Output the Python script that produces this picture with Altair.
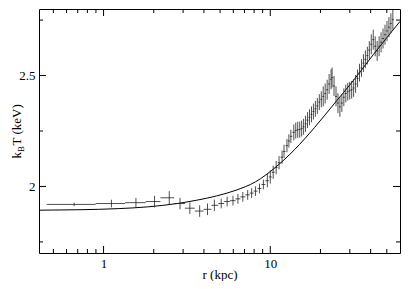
import altair as alt
import pandas as pd

# ---- data ----
r = [0.666, 1.115, 1.564, 2.022, 2.478, 2.876, 3.293, 3.771, 4.203, 4.621,
     5.080, 5.511, 5.976, 6.396, 6.843, 7.322, 7.730, 8.160, 8.615, 9.095,
     9.603, 10.00, 10.41, 10.85, 11.29, 11.77, 12.09, 12.59, 12.93, 13.29,
     13.84, 14.22, 14.61, 15.02, 15.43, 15.85, 16.28, 16.73, 17.19, 17.67,
     18.15, 18.65, 19.16, 19.69, 20.23, 20.78, 21.35, 21.94, 22.54, 23.16,
     23.48, 24.12, 24.79, 25.47, 26.16, 26.88, 27.62, 28.38, 29.16, 29.96,
     30.78, 31.62, 32.49, 33.38, 34.30, 35.24, 36.21, 37.20, 38.22, 39.27,
     40.35, 41.46, 42.60, 43.77, 44.97, 46.20, 47.47, 48.77, 50.12, 51.49,
     52.91, 54.36]

r_edges = [0.456, 0.897, 1.347, 1.790, 2.194, 2.652, 3.077, 3.525, 3.981, 4.437, 4.878,
           5.291, 5.738, 6.183, 6.616, 7.079, 7.524, 7.943, 8.384, 8.855, 9.346,
           9.799, 10.20, 10.63, 11.07, 11.53, 11.93, 12.34, 12.76, 13.11, 13.56,
           14.03, 14.42, 14.81, 15.22, 15.64, 16.07, 16.51, 16.96, 17.43, 17.91,
           18.40, 18.90, 19.42, 19.96, 20.50, 21.07, 21.64, 22.24, 22.85, 23.32,
           23.80, 24.45, 25.12, 25.81, 26.51, 27.24, 27.99, 28.76, 29.55, 30.36,
           31.19, 32.05, 32.93, 33.83, 34.76, 35.72, 36.70, 37.71, 38.74, 39.81,
           40.90, 42.02, 43.18, 44.36, 45.58, 46.83, 48.12, 49.44, 50.80, 52.19,
           53.63, 55.10]

kT = [1.919, 1.923, 1.927, 1.932, 1.949, 1.923, 1.902, 1.889, 1.897, 1.915,
      1.923, 1.932, 1.936, 1.944, 1.953, 1.962, 1.970, 1.979, 1.991, 2.009,
      2.026, 2.043, 2.064, 2.085, 2.107, 2.132, 2.158, 2.184, 2.205, 2.226,
      2.244, 2.252, 2.256, 2.256, 2.261, 2.269, 2.282, 2.299, 2.312, 2.325,
      2.338, 2.350, 2.363, 2.380, 2.393, 2.406, 2.419, 2.436, 2.462, 2.483,
      2.491, 2.453, 2.406, 2.376, 2.359, 2.376, 2.402, 2.419, 2.427, 2.432,
      2.436, 2.444, 2.462, 2.487, 2.513, 2.534, 2.556, 2.573, 2.590, 2.615,
      2.641, 2.662, 2.632, 2.611, 2.632, 2.650, 2.667, 2.684, 2.701, 2.718,
      2.735, 2.752]

kT_err = [0.008, 0.017, 0.021, 0.026, 0.030, 0.026, 0.026, 0.026, 0.026, 0.026,
          0.022, 0.022, 0.022, 0.022, 0.022, 0.022, 0.022, 0.022, 0.022, 0.022,
          0.030, 0.030, 0.030, 0.030, 0.030, 0.030, 0.030, 0.030, 0.030, 0.030,
          0.036, 0.036, 0.036, 0.036, 0.036, 0.036, 0.036, 0.036, 0.036, 0.036,
          0.036, 0.036, 0.036, 0.036, 0.036, 0.045, 0.045, 0.045, 0.045, 0.045,
          0.045, 0.045, 0.045, 0.045, 0.045, 0.040, 0.040, 0.040, 0.040, 0.040,
          0.040, 0.040, 0.040, 0.040, 0.040, 0.040, 0.040, 0.040, 0.040, 0.040,
          0.045, 0.045, 0.045, 0.045, 0.045, 0.045, 0.045, 0.045, 0.045, 0.045,
          0.045, 0.045]

model_r = [0.41, 0.713, 1.225, 1.840, 2.762, 3.622, 4.748, 6.225, 8.160, 10.70,
           14.03, 18.40, 24.12, 31.62, 41.46, 60.0]
model_T = [1.893, 1.895, 1.900, 1.908, 1.923, 1.938, 1.957, 1.983, 2.021, 2.085,
           2.167, 2.265, 2.372, 2.479, 2.594, 2.744]

x_major = [1, 10]
x_minor = [0.5, 0.6, 0.7, 0.8, 0.9, 2, 3, 4, 5, 6, 7, 8, 9, 20, 30, 40, 50]
y_major = [2.0, 2.5]
y_minor = [1.75, 2.25, 2.75]

x_title = "r (kpc)"
y_title_parts = ["k", "B", "T (keV)"]

# ---- chart ----
W, H = 361, 244
FONT = "Liberation Serif, Times New Roman, DejaVu Serif, serif"
xscale = alt.Scale(type="log", domain=[0.41, 60], nice=False)
yscale = alt.Scale(domain=[1.7, 2.8], nice=False, zero=False)

df = pd.DataFrame({"r": r, "T": kT, "err": kT_err,
                   "rlo": r_edges[:-1], "rhi": r_edges[1:]})
df["Tlo"] = df["T"] - df["err"]
df["Thi"] = df["T"] + df["err"]
mdf = pd.DataFrame({"r": model_r, "T": model_T})

xaxis = alt.Axis(values=x_major, title=x_title, ticks=False, domain=False,
                 grid=False, labelPadding=4, labelExpr="toString(datum.value)",
                 titleBaseline="alphabetic", titleY=25)
yaxis = alt.Axis(values=y_major, title="", ticks=False, domain=False,
                 grid=False, labelPadding=4, labelExpr="toString(datum.value)")

X = lambda f: alt.X(f, scale=xscale, axis=xaxis)
Y = lambda f: alt.Y(f, scale=yscale, axis=yaxis)

vbar = alt.Chart(df).mark_rule(color="#222222", strokeWidth=0.8, clip=True).encode(
    x=X("r:Q"), y=Y("Tlo:Q"), y2="Thi:Q",
)
hbar = alt.Chart(df).mark_rule(color="#222222", strokeWidth=0.8, clip=True).encode(
    x=X("rlo:Q"), x2="rhi:Q", y=Y("T:Q"),
)
model = alt.Chart(mdf).mark_line(color="black", strokeWidth=1, interpolate="monotone",
                                 clip=True).encode(x=X("r:Q"), y=Y("T:Q"))


def xticks(vals, length):
    d = pd.DataFrame({"v": vals})
    base = alt.Chart(d).mark_rule(color="black", strokeWidth=1)
    bottom = base.encode(x=X("v:Q"), y=alt.value(H), y2=alt.value(H - length))
    top = base.encode(x=X("v:Q"), y=alt.value(0), y2=alt.value(length))
    return [bottom, top]


def yticks(vals, length):
    d = pd.DataFrame({"v": vals})
    base = alt.Chart(d).mark_rule(color="black", strokeWidth=1)
    left = base.encode(y=Y("v:Q"), x=alt.value(0), x2=alt.value(length))
    right = base.encode(y=Y("v:Q"), x=alt.value(W), x2=alt.value(W - length))
    return [left, right]


one = pd.DataFrame({"a": [0]})


def ytxt(s, x, y, size):
    return alt.Chart(one).mark_text(text=s, angle=270, align="left", baseline="alphabetic",
                                    font=FONT, fontSize=size, color="black").encode(
        x=alt.value(x), y=alt.value(y))


layers = [model, hbar, vbar]
layers += xticks(x_major, 7) + xticks(x_minor, 4)
layers += yticks(y_major, 7) + yticks(y_minor, 4)
layers += [ytxt(y_title_parts[0], -18, 149.5, 13),
           ytxt(y_title_parts[1], -15, 143, 9),
           ytxt(y_title_parts[2], -18, 136.5, 13)]

chart = alt.layer(*layers).properties(
    width=W, height=H,
    autosize=alt.AutoSizeParams(type="none"),
    padding={"left": 31, "top": 1, "right": 1, "bottom": 28},
    background="white",
).configure_view(stroke="black", strokeWidth=1).configure_axis(
    labelFont=FONT, labelFontSize=13, labelColor="black", tickSize=0,
    titleFont=FONT, titleFontSize=13, titleFontWeight="normal", titleColor="black",
)

chart.save("out.html", embed_options={"renderer": "svg", "actions": False})
